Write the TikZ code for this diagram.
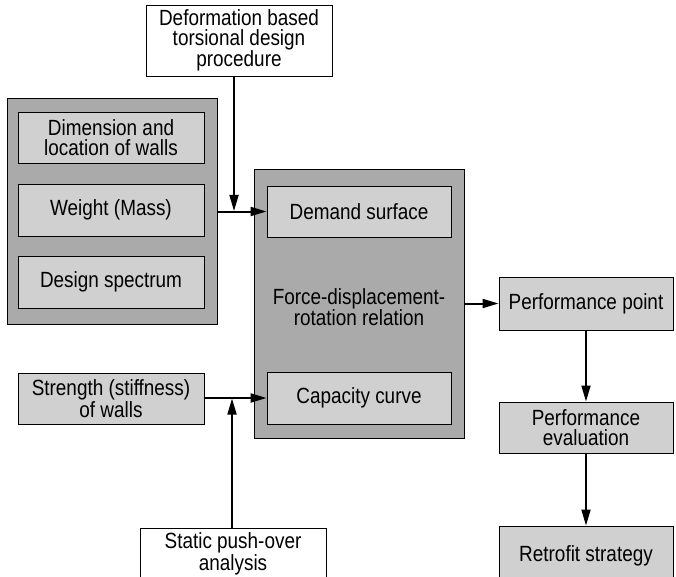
\documentclass[tikz,border=0pt]{standalone}
\usepackage{fontspec}
\setmainfont{Liberation Sans}[FakeStretch=0.86]
\usetikzlibrary{arrows.meta}

\definecolor{groupgray}{RGB}{170,170,170}
\definecolor{boxgray}{RGB}{208,208,208}

\tikzset{
  box/.style={draw, line width=0.9pt, fill=boxgray, minimum width=186pt,
    minimum height=51pt, inner sep=0pt, align=center,
    font=\fontsize{22}{20}\selectfont},
  whitebox/.style={box, fill=white},
  group/.style={draw, line width=0.9pt, fill=groupgray, inner sep=0pt},
  arr/.style={line width=2pt, -{Triangle[length=16pt,width=9pt]}},
  varr/.style={arr, line width=1.7pt}
}

\begin{document}
\begin{tikzpicture}[x=1pt,y=-1pt]

\clip (0,0) rectangle (676,577);

% top input
\node[whitebox, minimum height=71pt] (deform) at (239,40.5)
  {Deformation based\\torsional design\\procedure};

% left group
\node[group, minimum width=210pt, minimum height=226pt] (inputs) at (112,211) {};
\node[box] (dim) at (111,137.5) {Dimension and\\location of walls};
\node[box, minimum height=52pt] (weight) at (111,210) {Weight (Mass)};
\node[box, minimum height=52pt] (spectrum) at (111,282) {Design spectrum};

% central group
\node[group, minimum width=210pt, minimum height=269pt] (relation) at (359,303.5) {};
\node[box, minimum width=184pt] (demand) at (359,211.5) {Demand surface};
\node[box, minimum width=184pt, minimum height=52pt] (capacity) at (359,398) {Capacity curve};
\node[align=center, font=\fontsize{22}{20}\selectfont] (rellabel) at (359,307)
  {Force-displacement-\\rotation relation};

% bottom left inputs
\node[box] (strength) at (111,398.5) {Strength (stiffness)\\of walls};
\node[whitebox, minimum height=52pt] (pushover) at (233,554)
  {Static push-over\\analysis};

% right column
\node[box, minimum width=174pt, minimum height=53pt] (point) at (586,303.5) {Performance point};
\node[box, minimum width=174pt] (evaluation) at (586,427.5) {Performance\\evaluation};
\node[box, minimum width=174pt, minimum height=60pt] (retrofit) at (586,556) {Retrofit strategy};

% junctions
\coordinate (j1) at (234,211);
\coordinate (j2) at (232,398.5);

% connectors
\draw[varr] (j1 |- deform.south) -- (j1);
\draw[arr] (inputs.east |- demand.west) -- (demand.west);
\draw[arr] (strength.east |- capacity.west) -- (capacity.west);
\draw[varr] (j2 |- pushover.north) -- (j2);
\draw[arr] (relation.east |- point.west) -- (point.west);
\draw[varr] (point.south) -- (evaluation.north);
\draw[varr] (evaluation.south) -- (retrofit.north);

\end{tikzpicture}
\end{document}
